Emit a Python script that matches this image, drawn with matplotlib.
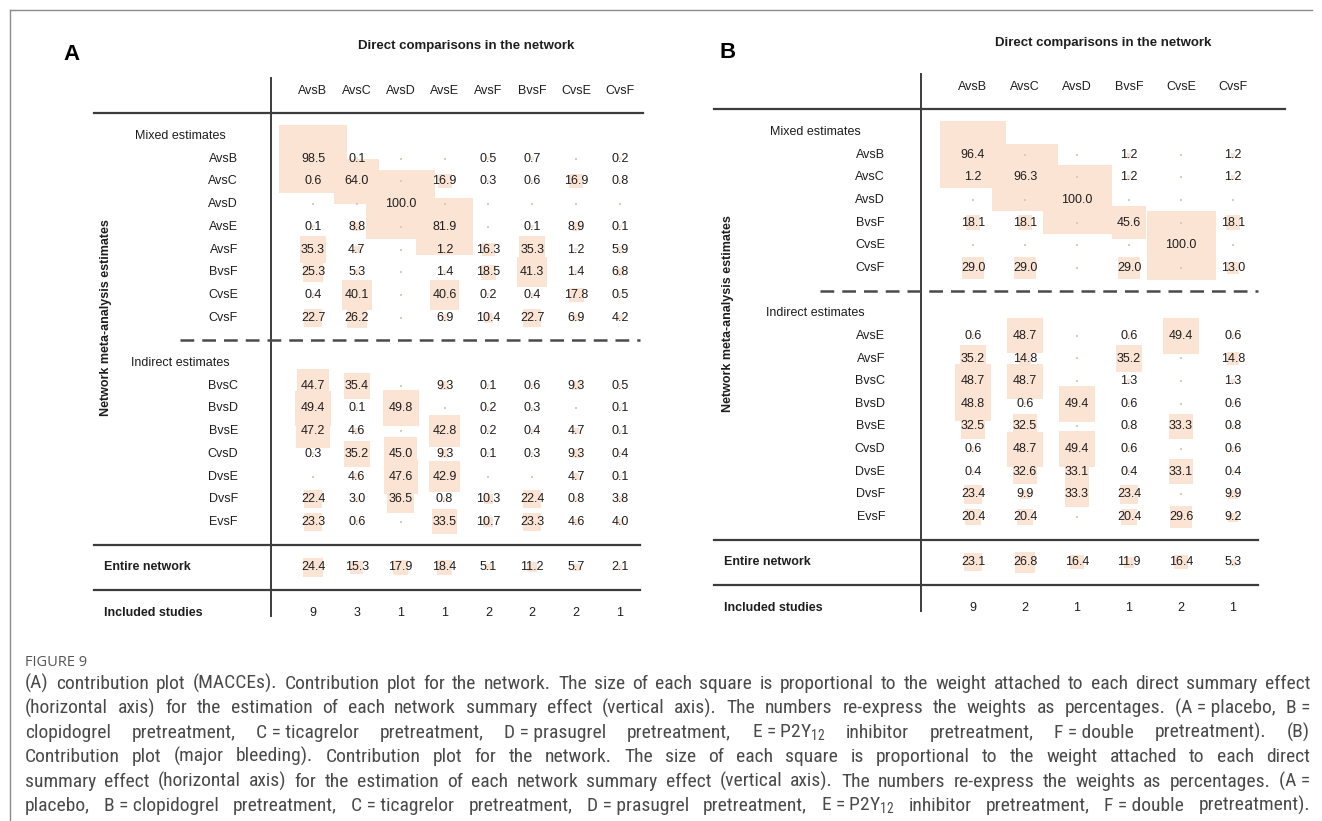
import matplotlib
matplotlib.use("Agg")
import matplotlib.pyplot as plt
from matplotlib import font_manager
from matplotlib.lines import Line2D

W, H = 1322, 821

# ---- panel A: MACCEs ----
cols_a = ["AvsB", "AvsC", "AvsD", "AvsE", "AvsF", "BvsF", "CvsE", "CvsF"]
mixed_rows_a = ["AvsB", "AvsC", "AvsD", "AvsE", "AvsF", "BvsF", "CvsE", "CvsF"]
mixed_vals_a = [
    [98.5, 0.1, 0, 0, 0.5, 0.7, 0, 0.2],
    [0.6, 64.0, 0, 16.9, 0.3, 0.6, 16.9, 0.8],
    [0, 0, 100.0, 0, 0, 0, 0, 0],
    [0.1, 8.8, 0, 81.9, 0, 0.1, 8.9, 0.1],
    [35.3, 4.7, 0, 1.2, 16.3, 35.3, 1.2, 5.9],
    [25.3, 5.3, 0, 1.4, 18.5, 41.3, 1.4, 6.8],
    [0.4, 40.1, 0, 40.6, 0.2, 0.4, 17.8, 0.5],
    [22.7, 26.2, 0, 6.9, 10.4, 22.7, 6.9, 4.2],
]
indirect_rows_a = ["BvsC", "BvsD", "BvsE", "CvsD", "DvsE", "DvsF", "EvsF"]
indirect_vals_a = [
    [44.7, 35.4, 0, 9.3, 0.1, 0.6, 9.3, 0.5],
    [49.4, 0.1, 49.8, 0, 0.2, 0.3, 0, 0.1],
    [47.2, 4.6, 0, 42.8, 0.2, 0.4, 4.7, 0.1],
    [0.3, 35.2, 45.0, 9.3, 0.1, 0.3, 9.3, 0.4],
    [0, 4.6, 47.6, 42.9, 0, 0, 4.7, 0.1],
    [22.4, 3.0, 36.5, 0.8, 10.3, 22.4, 0.8, 3.8],
    [23.3, 0.6, 0, 33.5, 10.7, 23.3, 4.6, 4.0],
]
entire_a = [24.4, 15.3, 17.9, 18.4, 5.1, 11.2, 5.7, 2.1]
studies_a = [9, 3, 1, 1, 2, 2, 2, 1]

# ---- panel B: major bleeding ----
cols_b = ["AvsB", "AvsC", "AvsD", "BvsF", "CvsE", "CvsF"]
mixed_rows_b = ["AvsB", "AvsC", "AvsD", "BvsF", "CvsE", "CvsF"]
mixed_vals_b = [
    [96.4, 0, 0, 1.2, 0, 1.2],
    [1.2, 96.3, 0, 1.2, 0, 1.2],
    [0, 0, 100.0, 0, 0, 0],
    [18.1, 18.1, 0, 45.6, 0, 18.1],
    [0, 0, 0, 0, 100.0, 0],
    [29.0, 29.0, 0, 29.0, 0, 13.0],
]
indirect_rows_b = ["AvsE", "AvsF", "BvsC", "BvsD", "BvsE", "CvsD", "DvsE", "DvsF", "EvsF"]
indirect_vals_b = [
    [0.6, 48.7, 0, 0.6, 49.4, 0.6],
    [35.2, 14.8, 0, 35.2, 0, 14.8],
    [48.7, 48.7, 0, 1.3, 0, 1.3],
    [48.8, 0.6, 49.4, 0.6, 0, 0.6],
    [32.5, 32.5, 0, 0.8, 33.3, 0.8],
    [0.6, 48.7, 49.4, 0.6, 0, 0.6],
    [0.4, 32.6, 33.1, 0.4, 33.1, 0.4],
    [23.4, 9.9, 33.3, 23.4, 0, 9.9],
    [20.4, 20.4, 0, 20.4, 29.6, 9.2],
]
entire_b = [23.1, 26.8, 16.4, 11.9, 16.4, 5.3]
studies_b = [9, 2, 1, 1, 2, 1]

caption_lines = [
    "(A) contribution plot (MACCEs). Contribution plot for the network. The size of each square is proportional to the weight attached to each direct summary effect",
    "(horizontal axis) for the estimation of each network summary effect (vertical axis). The numbers re-express the weights as percentages. (A\u00a0=\u00a0placebo, B\u00a0=",
    "clopidogrel pretreatment, C\u00a0=\u00a0ticagrelor pretreatment, D\u00a0=\u00a0prasugrel pretreatment, E\u00a0=\u00a0P2Y$_{\\mathregular{12}}$ inhibitor pretreatment, F\u00a0=\u00a0double pretreatment). (B)",
    "Contribution plot (major bleeding). Contribution plot for the network. The size of each square is proportional to the weight attached to each direct",
    "summary effect (horizontal axis) for the estimation of each network summary effect (vertical axis). The numbers re-express the weights as percentages. (A\u00a0=",
    "placebo, B\u00a0=\u00a0clopidogrel pretreatment, C\u00a0=\u00a0ticagrelor pretreatment, D\u00a0=\u00a0prasugrel pretreatment, E\u00a0=\u00a0P2Y$_{\\mathregular{12}}$ inhibitor pretreatment, F\u00a0=\u00a0double pretreatment).",
]

SQ_COLOR = "#fbe4d4"
LINE_COLOR = "#3c3c3c"
TXT = "#1e1e1e"
FS = 9


def pick_font(names):
    for n in names:
        try:
            font_manager.findfont(font_manager.FontProperties(family=n), fallback_to_default=False)
            return n
        except ValueError:
            continue
    return "DejaVu Sans"


CHART_FONT = pick_font(["Liberation Sans", "Arial"])
CAP_FONT = pick_font(["Liberation Sans Narrow", "Roboto Condensed", "Liberation Sans"])
FIG_FONT = pick_font(["Open Sans", "Noto Sans"])
plt.rcParams["font.family"] = CHART_FONT
plt.rcParams["mathtext.fontset"] = "custom"
plt.rcParams["mathtext.rm"] = CAP_FONT


def panel_axes(fig, x0, dx, y0, dy, xlim, ylim):
    # one data unit = one column horizontally, one table row vertically
    left = x0 + dx * xlim[0]
    right = x0 + dx * xlim[1]
    top = y0 + dy * ylim[0]
    bottom = y0 + dy * ylim[1]
    ax = fig.add_axes([left / W, 1 - bottom / H, (right - left) / W, (bottom - top) / H])
    ax.set_xlim(xlim)
    ax.set_ylim(ylim[1], ylim[0])
    ax.axis("off")
    return ax


def size_of(v):
    side_px = 0.66 * v + 3.0
    return (side_px * 0.72) ** 2


def draw_panel(ax, cols, mixed_rows, mixed_vals, ind_rows, ind_vals, entire, studies, lay):
    n = len(cols)
    m = len(mixed_rows)
    k = len(ind_rows)
    k_dash = m + 1
    k_ind = m + 2
    k_line1 = m + k + 3
    k_entire = m + k + 4
    k_line2 = m + k + 5
    k_studies = m + k + 6

    rows_y = list(range(1, m + 1)) + list(range(m + 3, m + 3 + k))
    vals = mixed_vals + ind_vals + [entire]
    ys = rows_y + [k_entire]

    xs_all, ys_all, ss_all = [], [], []
    zx, zy = [], []
    for y, row in zip(ys, vals):
        for c, v in enumerate(row):
            if v > 0:
                xs_all.append(c)
                ys_all.append(y)
                ss_all.append(size_of(v))
            else:
                zx.append(c)
                zy.append(y)
    ax.scatter(xs_all, ys_all, s=ss_all, marker="s", color=SQ_COLOR, linewidths=0, zorder=1)
    ax.scatter(zx, zy, s=1.2, marker="s", color="#d6ccc4", linewidths=0, zorder=1)

    for y, row in zip(ys, vals):
        for c, v in enumerate(row):
            if v > 0:
                ax.text(c, y, f"{v:.1f}", ha="center", va="center", fontsize=FS, color=TXT, zorder=3)
    for c, v in enumerate(studies):
        ax.text(c, k_studies, str(v), ha="center", va="center", fontsize=FS, color=TXT, zorder=3)

    # headers and row labels
    for c, name in enumerate(cols):
        ax.text(c, -2, name, ha="center", va="center", fontsize=FS, color=TXT)
    ax.text((n - 1) / 2, -3.95, "Direct comparisons in the network", ha="center", va="center",
            fontsize=9.5, fontweight="bold", color=TXT)
    ax.text(lay["mixed_x"], 0, "Mixed estimates", ha="left", va="center", fontsize=FS, color=TXT)
    ax.text(lay["ind_x"], k_ind, "Indirect estimates", ha="left", va="center", fontsize=FS, color=TXT)
    for y, name in zip(rows_y, mixed_rows + ind_rows):
        ax.text(lay["label_x"], y, name, ha="right", va="center", fontsize=FS, color=TXT)
    ax.text(lay["bold_x"], k_entire, "Entire network", ha="left", va="center",
            fontsize=FS, fontweight="bold", color=TXT)
    ax.text(lay["bold_x"], k_studies, "Included studies", ha="left", va="center",
            fontsize=FS, fontweight="bold", color=TXT)
    ax.text(lay["ylab_x"], (m + k + 3) / 2 - 1.0, "Network meta-analysis estimates", rotation=90,
            ha="center", va="center", fontsize=FS, fontweight="bold", color=TXT)

    # rules
    ax.plot([lay["vline_x"]] * 2, [-2.55, k_studies + 0.15], color=LINE_COLOR, lw=1.4)
    ax.plot([lay["left"], lay["head_right"]], [-1, -1], color=LINE_COLOR, lw=1.6)
    ax.plot([lay["dash_left"], lay["right"]], [k_dash, k_dash], color="#4a4a4a", lw=1.8,
            linestyle=(0, (5.5, 3.2)))
    for yl in (k_line1, k_line2):
        ax.plot([lay["left"], lay["right"]], [yl, yl], color=LINE_COLOR, lw=1.6)


fig = plt.figure(figsize=(W / 100, H / 100), dpi=100)
fig.patch.set_facecolor("white")

ax_a = panel_axes(fig, 313, 43.86, 136, 22.7, (-5.6, 8.0), (-5, 22.5))
draw_panel(ax_a, cols_a, mixed_rows_a, mixed_vals_a, indirect_rows_a, indirect_vals_a,
           entire_a, studies_a,
           dict(mixed_x=-4.06, ind_x=-4.15, label_x=-1.71, bold_x=-4.77, ylab_x=-4.72,
                vline_x=-0.96, left=-4.99, head_right=7.52, right=7.46, dash_left=-3.03))

ax_b = panel_axes(fig, 973, 52.0, 132, 22.65, (-5.2, 6.2), (-5, 22.5))
draw_panel(ax_b, cols_b, mixed_rows_b, mixed_vals_b, indirect_rows_b, indirect_vals_b,
           entire_b, studies_b,
           dict(mixed_x=-3.9, ind_x=-3.98, label_x=-1.69, bold_x=-4.79, ylab_x=-4.71,
                vline_x=-1.0, left=-4.98, head_right=6.0, right=5.48, dash_left=-2.94))

fig.text(72 / W, 1 - 55 / H, "A", ha="center", va="center", fontsize=16, fontweight="bold", color="black")
fig.text(728 / W, 1 - 53 / H, "B", ha="center", va="center", fontsize=16, fontweight="bold", color="black")

# page frame
fig.add_artist(Line2D([9.5 / W, 9.5 / W], [0, 1 - 10 / H], color="#8a8a8a", lw=1.0))
fig.add_artist(Line2D([9.5 / W, 1312 / W], [1 - 10 / H, 1 - 10 / H], color="#8a8a8a", lw=1.0))

# caption
fig.text(25 / W, 1 - 666 / H, "FIGURE 9", ha="left", va="baseline", fontsize=10.5,
         family=FIG_FONT, color="#555555")

renderer = fig.canvas.get_renderer()
cap_left, cap_right = 25, 1310
for i, line in enumerate(caption_lines):
    words = line.split(" ")
    texts = [fig.text(0, 0, w.replace("\u00a0", " "), ha="left", va="baseline", fontsize=14,
                      family=CAP_FONT, color="#4a4a4a") for w in words]
    widths = [t.get_window_extent(renderer).width for t in texts]
    gap = (cap_right - cap_left - sum(widths)) / (len(words) - 1)
    x = cap_left
    yb = 689 + 24.4 * i
    for t, w in zip(texts, widths):
        t.set_position((x / W, 1 - yb / H))
        x += w + gap

fig.savefig("out.png", dpi=100, facecolor="white")
